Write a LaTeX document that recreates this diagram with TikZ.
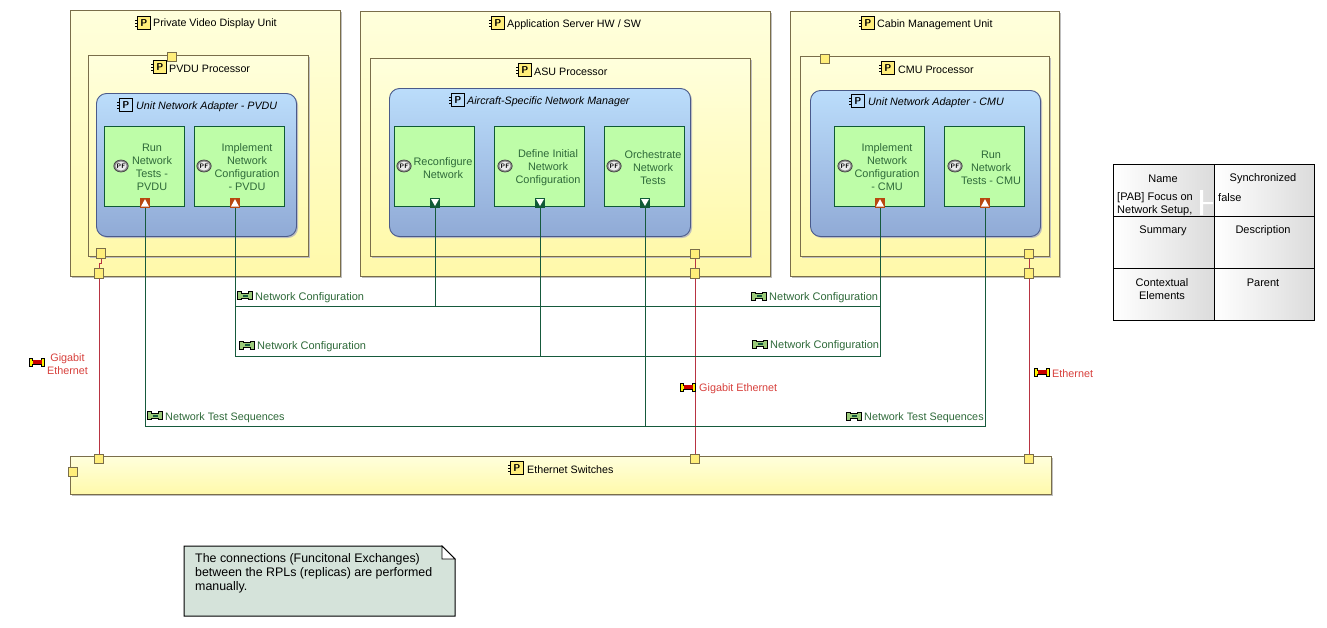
\documentclass[tikz,border=0pt]{standalone}
\usepackage{fontspec}
\setmainfont{Liberation Sans}
\usetikzlibrary{fit,shadows,calc,shapes.geometric}
\definecolor{boxline}{HTML}{7A6E4A}
\definecolor{ytop}{HTML}{FFFFDC}
\definecolor{ybot}{HTML}{FFF9AA}
\definecolor{bluetop}{HTML}{BBDDFB}
\definecolor{bluebot}{HTML}{90AAD6}
\definecolor{blueline}{HTML}{4A5A8A}
\definecolor{fngreen}{HTML}{BEFDA8}
\definecolor{fnline}{HTML}{0F5A36}
\definecolor{fntext}{HTML}{2F6A3A}
\definecolor{exgreen}{HTML}{165A3C}
\definecolor{exicon}{HTML}{9CCB7A}
\definecolor{linkred}{HTML}{B83442}
\definecolor{phtext}{HTML}{D8403C}
\definecolor{portfill}{HTML}{FFEE7A}
\definecolor{portbrown}{HTML}{B8470F}
\definecolor{notefill}{HTML}{D5E3DA}
\tikzset{
  x=1pt,y=-1pt,
  txt/.style={font=\fontsize{10.7}{13}\selectfont,inner sep=0pt,align=center,yshift=-1pt},
  unitbox/.style={draw=boxline,line width=.9pt,top color=ytop,bottom color=ybot,inner sep=0pt,
    general shadow={fill=black!25,shadow xshift=1.5pt,shadow yshift=-1.5pt}},
  adapter/.style={draw=blueline,line width=.9pt,top color=bluetop,bottom color=bluebot,inner sep=0pt,rounded corners=10pt,
    general shadow={fill=black!25,shadow xshift=1.5pt,shadow yshift=-1.5pt}},
  fnbox/.style={draw=fnline,line width=.9pt,fill=fngreen,inner sep=0pt},
  fntxt/.style={txt,text=fntext,font=\fontsize{10.9}{13}\selectfont},
  yport/.style={draw=boxline,line width=.8pt,fill=portfill,minimum size=9.5pt,inner sep=0pt},
  outport/.style={fill=portbrown,minimum size=10pt,inner sep=0pt},
  inport/.style={fill=fnline,minimum size=10pt,inner sep=0pt},
  greenlink/.style={draw=exgreen,line width=.9pt},
  redlink/.style={draw=linkred,line width=.75pt},
  gtxt/.style={txt,text=fntext,anchor=west,font=\fontsize{11}{13}\selectfont},
  gtxts/.style={txt,text=fntext,anchor=west,font=\fontsize{10.8}{13}\selectfont},
  rtxt/.style={txt,text=phtext,font=\fontsize{10.8}{13}\selectfont},
  cell/.style={draw=black,line width=1pt,left color=white,right color=black!14,inner sep=0pt},
  celltxt/.style={txt,font=\fontsize{11}{13}\selectfont},
  picbox/.pic={
    \fill[#1] (-5.5,-6.5) rectangle (7,6.5);
    \draw[black,line width=.9pt] (-5.5,-6.5) rectangle (7,6.5);
    \draw[black,line width=.9pt] (-8,-3) -- (-5.5,-3) (-8,0) -- (-5.5,0) (-8,3) -- (-5.5,3);
    \node[font=\fontsize{10}{10}\sffamily\bfseries\selectfont,inner sep=0pt,text=black] at (.8,0) {P};
  },
  pf/.pic={
    \draw[draw=black!75,fill=black!45,line width=.7pt] (0,0) ellipse (7.2 and 6);
    \fill[black!8] (0,0) ellipse (5.6 and 4.5);
    \node[font=\fontsize{6.5}{6.5}\sffamily\bfseries\selectfont,inner sep=0pt,text=black] at (0,0) {PF};
  },
  uptri/.pic={\fill[white] (-4,3.5) -- (4,3.5) -- (0,-3.8) -- cycle;},
  downtri/.pic={\fill[white] (-4,-4) -- (4,-4) -- (0,3) -- cycle; },
  greenex/.pic={
    \draw[black,fill=exicon,line width=.9pt] (-7.5,-4) -- (-4,-4) -- (-4,-2.5) -- (3,-2.5) -- (3,-4) -- (7.5,-4) -- (7.5,4) -- (3,4) -- (3,2.5) -- (-4,2.5) -- (-4,4) -- (-7.5,4) -- cycle;
    \fill[exgreen] (-2,-1) rectangle (3,1);
  },
  redex/.pic={
    \draw[black,fill=yellow,line width=.9pt] (-7.5,-4) -- (-4.5,-4) -- (-4.5,-2) -- (4.5,-2) -- (4.5,-4) -- (7.5,-4) -- (7.5,4) -- (4.5,4) -- (4.5,2) -- (-4.5,2) -- (-4.5,4) -- (-7.5,4) -- cycle;
    \fill[red!80!black] (-4,-2.2) rectangle (5,2.2);
  }
}
\begin{document}
\begin{tikzpicture}
\useasboundingbox (0,0) rectangle (1327,627);
\fill[white] (0,0) rectangle (1327,627);

% ---------- containers
\node[unitbox,fit={(70.5,10.5)(340.5,276.5)}] (pvdu) {};
\node[unitbox,fit={(88.5,55.5)(308.5,256.5)}] (pvduproc) {};
\node[adapter,fit={(96.5,93.5)(296.5,236.5)}] (pvduad) {};
\node[unitbox,fit={(360.5,11.5)(770.5,276.5)}] (asu) {};
\node[unitbox,fit={(370.5,58.5)(750.5,256.5)}] (asuproc) {};
\node[adapter,fit={(389.5,88.5)(690.5,236.5)}] (asuad) {};
\node[unitbox,fit={(790.5,11.5)(1059.5,276.5)}] (cmu) {};
\node[unitbox,fit={(800.5,56.5)(1049.5,256.5)}] (cmuproc) {};
\node[adapter,fit={(810.5,90.5)(1040.5,236.5)}] (cmuad) {};
\node[unitbox,fit={(70.5,456.5)(1051.5,494.5)}] (switches) {};

% ---------- container titles
\pic at (143,23) {picbox=portfill};
\node[txt,anchor=west] (tpvdu) at (153,23) {Private Video Display Unit};
\pic at (159,67) {picbox=portfill};
\node[txt,anchor=west] (tpproc) at (169,68) {PVDU Processor};
\pic at (125,105) {picbox=bluetop};
\node[txt,anchor=west] (tpad) at (136,105.5) {\itshape Unit Network Adapter - PVDU};
\pic at (497,23) {picbox=portfill};
\node[txt,anchor=west] (tasu) at (507,24) {Application Server HW / SW};
\pic at (524,70) {picbox=portfill};
\node[txt,anchor=west] (taproc) at (534,71) {ASU Processor};
\pic at (457,100) {picbox=bluetop};
\node[txt,anchor=west] (taad) at (467,100.5) {\itshape Aircraft-Specific Network Manager};
\pic at (867,23) {picbox=portfill};
\node[txt,anchor=west] (tcmu) at (877,24) {Cabin Management Unit};
\pic at (887,68) {picbox=portfill};
\node[txt,anchor=west] (tcproc) at (898,69) {CMU Processor};
\pic at (857,101) {picbox=bluetop};
\node[txt,anchor=west] (tcad) at (868,102) {\itshape Unit Network Adapter - CMU};
\pic at (516,468) {picbox=portfill};
\node[txt,anchor=west] (tsw) at (527,469) {Ethernet Switches};

% ---------- functions
\node[fnbox,fit={(104.5,126.5)(184.5,206.5)}] (f1) {};
\node[fntxt] (f1t) at (152,166.5) {Run\\Network\\Tests -\\PVDU};
\pic at (121,166) {pf};
\node[fnbox,fit={(194.5,126.5)(284.5,206.5)}] (f2) {};
\node[fntxt] (f2t) at (247,166.5) {Implement\\Network\\Configuration\\- PVDU};
\pic at (204,166) {pf};
\node[fnbox,fit={(394.5,126.5)(474.5,206.5)}] (f3) {};
\node[fntxt] (f3t) at (443,167) {Reconfigure\\Network};
\pic at (404,166) {pf};
\node[fnbox,fit={(494.5,126.5)(584.5,206.5)}] (f4) {};
\node[fntxt] (f4t) at (548,167) {Define Initial\\Network\\Configuration};
\pic at (505,166) {pf};
\node[fnbox,fit={(604.5,126.5)(684.5,206.5)}] (f5) {};
\node[fntxt] (f5t) at (653,167) {Orchestrate\\Network\\Tests};
\pic at (614,166) {pf};
\node[fnbox,fit={(834.5,126.5)(924.5,206.5)}] (f6) {};
\node[fntxt] (f6t) at (887,166.5) {Implement\\Network\\Configuration\\- CMU};
\pic at (845,166) {pf};
\node[fnbox,fit={(944.5,126.5)(1024.5,206.5)}] (f7) {};
\node[fntxt] (f7t) at (991,167) {Run\\Network\\Tests - CMU};
\pic at (955,166) {pf};

% ---------- function ports
\node[outport] (p1) at (145,203) {}; \pic at (145,203) {uptri};
\node[outport] (p2) at (235,203) {}; \pic at (235,203) {uptri};
\node[outport] (p6) at (880,203) {}; \pic at (880,203) {uptri};
\node[outport] (p7) at (985,203) {}; \pic at (985,203) {uptri};
\node[inport] (p3) at (435,203) {}; \pic at (435,203) {downtri};
\node[inport] (p4) at (540,203) {}; \pic at (540,203) {downtri};
\node[inport] (p5) at (645,203) {}; \pic at (645,203) {downtri};

% ---------- physical ports
\node[yport] (y0) at (172,57) {};
\node[yport] (y1) at (101,253.5) {};
\node[yport] (y2) at (99,273.5) {};
\node[yport] (y3) at (695,254) {};
\node[yport] (y4) at (695,273.5) {};
\node[yport] (y5) at (825,59) {};
\node[yport] (y6) at (1029,254) {};
\node[yport] (y7) at (1029,273.5) {};
\node[yport] (s0) at (73,472) {};
\node[yport] (s1) at (99,459) {};
\node[yport] (s2) at (695,459) {};
\node[yport] (s3) at (1029,459) {};

% ---------- physical links
\coordinate (bendA) at (0,263.5);
\draw[redlink] (y1.south) -- (y1.south |- bendA) -- (y2.north |- bendA) -- (y2.north);
\draw[redlink] (y3.south) -- (y4.north);
\draw[redlink] (y6.south) -- (y7.north);
\draw[redlink] (y2.south) -- (s1.north);
\draw[redlink] (y4.south) -- (s2.north);
\draw[redlink] (y7.south) -- (s3.north);

% ---------- functional exchanges
\coordinate (r1) at (0,306.5);
\coordinate (r2) at (0,356.5);
\coordinate (r3) at (0,426.5);
\draw[greenlink] (p2.south) -- (p2.south |- r1) -- (p6.south |- r1) -- (p6.south);
\draw[greenlink] (p3.south) -- (p3.south |- r1);
\draw[greenlink] (p2.south |- r1) -- (p2.south |- r2) -- (p6.south |- r2) -- (p6.south |- r1);
\draw[greenlink] (p4.south) -- (p4.south |- r2);
\draw[greenlink] (p1.south) -- (p1.south |- r3) -- (p7.south |- r3) -- (p7.south);
\draw[greenlink] (p5.south) -- (p5.south |- r3);

% ---------- exchange labels
\pic at (245,295.5) {greenex};
\node[gtxt] (l1) at (255,296.5) {Network Configuration};
\pic at (759,296) {greenex};
\node[gtxt] (l2) at (769,297) {Network Configuration};
\pic at (247,345) {greenex};
\node[gtxt] (l3) at (257,346) {Network Configuration};
\pic at (760,344) {greenex};
\node[gtxt] (l4) at (770,345) {Network Configuration};
\pic at (155,415.5) {greenex};
\node[gtxts] (l5) at (165,416.5) {Network Test Sequences};
\pic at (854,416) {greenex};
\node[gtxts] (l6) at (864,417) {Network Test Sequences};

\pic at (37,362) {redex};
\node[rtxt] (l7) at (67.5,363.5) {Gigabit\\Ethernet};
\pic at (688,387) {redex};
\node[rtxt,anchor=west] (l8) at (699,388) {Gigabit Ethernet};
\pic at (1042,372) {redex};
\node[rtxt,anchor=west] (l9) at (1052,373) {Ethernet};

% ---------- table
\node[cell,fit={(1113.5,164.5)(1214.5,216.5)}] (c1) {};
\node[cell,fit={(1214.5,164.5)(1314.5,216.5)}] (c2) {};
\node[cell,fit={(1113.5,216.5)(1214.5,268.5)}] (c3) {};
\node[cell,fit={(1214.5,216.5)(1314.5,268.5)}] (c4) {};
\node[cell,fit={(1113.5,268.5)(1214.5,320.5)}] (c5) {};
\node[cell,fit={(1214.5,268.5)(1314.5,320.5)}] (c6) {};
\fill[white] (1200,190) rectangle (1203,215) (1203,202) rectangle (1213,204);
\node[celltxt] (tc1) at (1163,178) {Name};
\node[celltxt,anchor=west,align=left] (tc1b) at (1117,203.5) {[PAB] Focus on\\Network Setup,};
\node[celltxt] (tc2) at (1263,178) {Synchronized};
\node[celltxt,anchor=west] (tc2b) at (1218,197) {false};
\node[celltxt] (tc3) at (1163,230) {Summary};
\node[celltxt] (tc4) at (1263,230) {Description};
\node[celltxt] (tc5) at (1162,288.5) {Contextual\\Elements};
\node[celltxt] (tc6) at (1263,282) {Parent};

% ---------- note
\draw[black,line width=1pt,fill=notefill] (184,546) -- (442,546) -- (455,559) -- (455,616) -- (184,616) -- cycle;
\draw[black,line width=.8pt,fill=white] (442,546) -- (442,559) -- (455,559) -- cycle;
\node[txt,anchor=north west,align=left,font=\fontsize{12.4}{14}\selectfont] (note) at (195,552.5) {The connections (Funcitonal Exchanges)\\between the RPLs (replicas) are performed\\manually.};
\end{tikzpicture}
\end{document}
